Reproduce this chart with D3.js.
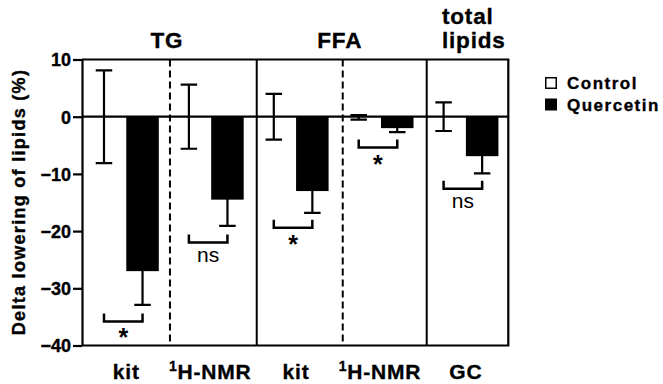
<!DOCTYPE html>
<html>
<head>
<meta charset="utf-8">
<script src="https://cdn.jsdelivr.net/npm/d3@7"></script>
<style>
body{margin:0;background:#fff;}
svg text{font-family:Arial,"Liberation Sans",sans-serif;fill:#000;}
svg text.heavy{stroke:#000;stroke-width:0.35px;}
</style>
</head>
<body>
<svg id=chart width=663 height=384></svg>
<script>
// data (delta % vs baseline, mean +/- SEM)
var groups=["TG kit","TG 1H-NMR","FFA kit","FFA 1H-NMR","total lipids GC"];
var control_mean=[0,0,0,-0.1,0];
var control_sem=[8.1,5.6,4.0,0.4,2.5];
var quercetin_mean=[-27.0,-14.5,-13.0,-2.0,-6.9];
var quercetin_sem=[5.9,4.6,3.8,0.7,3.0];
var sig_labels=["*","ns","*","*","ns"];
var sig_level=[-35.8,-22.0,-19.4,-5.4,-12.6];
var y_ticks=[10,0,-10,-20,-30,-40];
var x_labels=[["","kit"],["1","H-NMR"],["","kit"],["1","H-NMR"],["","GC"]];
var header_labels=[["TG"],["FFA"],["total","lipids"]];
var header_at=[0.55,2.585,4];
var divider_at=[0.55,1.572,2.585,3.574];
var divider_dashed=[true,false,true,false];
var legend_labels=["Control","Quercetin"];

var svg=d3.select('#chart');
var x=d3.scaleLinear().domain([-0.486,4.535]).range([82,508.3]);
var y=d3.scaleLinear().domain([10,-40]).range([59.5,345.5]);
var bar_off=0.227, bar_w=x(0.383)-x(0), cap_w=16.5;

var gg=svg.append('g');

// frame
gg.append('path')
    .attr('d','M'+x(-0.486)+','+y(10)+'H'+x(4.535)+'V'+y(-40)+'H'+x(-0.486))
    .attr('fill','none').attr('stroke','#000').attr('stroke-width',2.2);

// dividers
divider_at.forEach(function(d,i) {
    gg.append('line')
        .attr('x1',x(d)).attr('x2',x(d)).attr('y1',y(10)).attr('y2',y(-40))
        .attr('stroke','#000').attr('stroke-width',2)
        .attr('stroke-dasharray',divider_dashed[i]?'7,4':null);
});

// bars
function draw_series(mean,sem,offset,fill) {
    var w=gg.append('g');
    mean.forEach(function(v,i) {
        var cx=x(i+offset);
        w.append('rect')
            .attr('x',cx-bar_w/2).attr('width',bar_w)
            .attr('y',Math.min(y(v),y(0))).attr('height',Math.abs(y(v)-y(0)))
            .attr('fill',fill);
        var lo=y(v-sem[i]), hi=y(v+sem[i]);
        w.append('path')
            .attr('d','M'+cx+','+lo+'V'+hi+'M'+(cx-cap_w/2)+','+lo+'H'+(cx+cap_w/2)+'M'+(cx-cap_w/2)+','+hi+'H'+(cx+cap_w/2))
            .attr('fill','none').attr('stroke','#000').attr('stroke-width',2.2);
    });
}
draw_series(control_mean,control_sem,-bar_off,'#fff');
draw_series(quercetin_mean,quercetin_sem,bar_off,'#000');

// zero line
gg.append('line')
    .attr('x1',x(-0.486)).attr('x2',x(4.535)).attr('y1',y(0)).attr('y2',y(0))
    .attr('stroke','#000').attr('stroke-width',2.2);

// significance brackets
sig_labels.forEach(function(lab,i) {
    var x1=x(i-bar_off), x2=x(i+bar_off), yy=y(sig_level[i]);
    gg.append('path')
        .attr('d','M'+x1+','+(yy-8)+'V'+yy+'H'+x2+'V'+(yy-8))
        .attr('fill','none').attr('stroke','#000').attr('stroke-width',2.5);
    gg.append('text')
        .attr('x',(x1+x2)/2).attr('y',lab=='*' ? yy+25 : yy+19)
        .attr('text-anchor','middle')
        .style('font-size',lab=='*' ? '25px' : '21px')
        .style('font-weight',lab=='*' ? 'bold' : 'normal')
        .text(lab);
});

// y axis
var y_axis=d3.axisLeft(y).tickValues(y_ticks).tickSize(9).tickSizeOuter(0).tickPadding(2);
var Y=gg.append('g').attr('transform','translate('+x(-0.486)+',0)').call(y_axis);
Y.select('.domain').attr('stroke-width',2.2);
Y.selectAll('.tick line').attr('stroke-width',2.2);
Y.selectAll('.tick text').attr('class','heavy').style('font-size','18px').style('font-weight','bold')
    .attr('font-family',null).attr('dy','0.36em');

gg.append('text').attr('class','heavy')
    .attr('transform','translate(25,202) rotate(-90)')
    .attr('text-anchor','middle')
    .style('font-size','18px').style('font-weight','bold').style('letter-spacing','1.3px')
    .text('Delta lowering of lipids (%)');

// category labels
x_labels.forEach(function(lab,i) {
    var t=gg.append('text').attr('class','heavy')
        .attr('x',x(i)+(lab[0] ? 2 : 3)).attr('y',378.5)
        .attr('text-anchor','middle')
        .style('font-size','21px').style('font-weight','bold').style('letter-spacing','0.8px');
    if (lab[0]) t.append('tspan').attr('dy',-8).style('font-size','14px').text(lab[0]);
    t.append('tspan').attr('dy',lab[0] ? 8 : 0).text(lab[1]);
});

// headers
header_labels.forEach(function(lines,i) {
    var n=lines.length;
    lines.forEach(function(s,k) {
        gg.append('text').attr('class','heavy')
            .attr('x',n>1 ? 442 : x(header_at[i])-3)
            .attr('y',47.5-(n-1-k)*23.5)
            .attr('text-anchor',n>1 ? 'start' : 'middle')
            .style('font-size','22.5px').style('font-weight','bold').style('letter-spacing','0.8px')
            .text(s);
    });
});

// legend
var lg=gg.append('g').attr('transform','translate(545,77)');
legend_labels.forEach(function(s,i) {
    lg.append('rect').attr('x',0.75).attr('y',i*21.5+0.75).attr('width',10.5).attr('height',10.5)
        .attr('fill',i==0 ? '#fff' : '#000').attr('stroke','#000').attr('stroke-width',1.5);
    lg.append('text').attr('class','heavy').attr('x',22).attr('y',i*21.5+12)
        .style('font-size','17px').style('font-weight','bold').style('letter-spacing','1.5px')
        .text(s);
});
</script>
</body>
</html>
